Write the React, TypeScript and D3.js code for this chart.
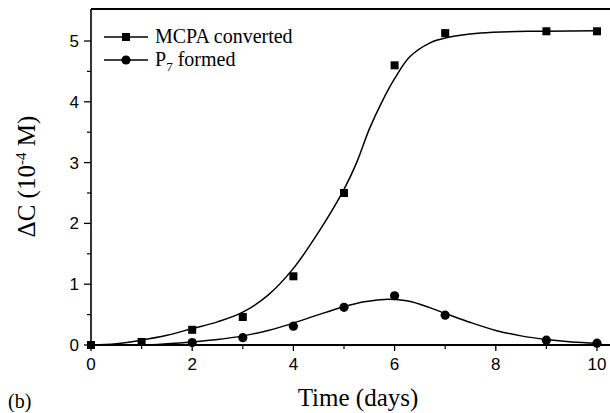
import React from "react";
import * as d3 from "d3";

const W = 610;
const H = 413;

// Measured data
const mcpaX = [0, 1, 2, 3, 4, 5, 6, 7, 9, 10];
const mcpaY = [0, 0.05, 0.25, 0.46, 1.13, 2.5, 4.6, 5.13, 5.16, 5.16];
const p7X = [2, 3, 4, 5, 6, 7, 9, 10];
const p7Y = [0.04, 0.12, 0.31, 0.62, 0.81, 0.49, 0.08, 0.03];

// Fitted curves
const mcpaFitX = [0, 0.5, 1, 1.5, 2, 2.5, 3, 3.5, 4, 4.5, 5, 5.25, 5.5, 5.75, 6, 6.3, 6.7, 7, 7.7, 8.7, 9, 10];
const mcpaFitY = [0, 0.02, 0.08, 0.16, 0.27, 0.38, 0.54, 0.82, 1.26, 1.86, 2.56, 3.0, 3.55, 4.0, 4.38, 4.74, 4.97, 5.05, 5.13, 5.16, 5.16, 5.17];
const p7FitX = [0, 1, 1.5, 2, 2.5, 3, 3.5, 4, 4.5, 5, 5.4, 5.8, 6.2, 6.5, 7, 7.5, 8, 8.5, 9, 9.5, 10];
const p7FitY = [0, 0.0, 0.02, 0.05, 0.09, 0.15, 0.24, 0.36, 0.5, 0.63, 0.71, 0.75, 0.73, 0.67, 0.52, 0.37, 0.24, 0.15, 0.09, 0.05, 0.03];

const xMajor = [0, 2, 4, 6, 8, 10];
const xMinor = [1, 3, 5, 7, 9];
const yMajor = [0, 1, 2, 3, 4, 5];
const yMinor = [0.5, 1.5, 2.5, 3.5, 4.5];

export default function App() {
  const x = d3.scaleLinear().domain([0, 10]).range([91, 597]);
  const y = d3.scaleLinear().domain([0, 5]).range([345, 41]);
  const yTop = 9;
  const x0 = x(0);
  const y0 = y(0);

  const line = d3
    .line<[number, number]>()
    .x((d) => x(d[0]))
    .y((d) => y(d[1]))
    .curve(d3.curveCatmullRom.alpha(0.5));

  const mcpaFit = mcpaFitX.map((v, i) => [v, mcpaFitY[i]] as [number, number]);
  const p7Fit = p7FitX.map((v, i) => [v, p7FitY[i]] as [number, number]);

  const sq = 8;
  const serif = "'Liberation Serif', 'Times New Roman', serif";
  const sans = "'Liberation Sans', Arial, sans-serif";

  return (
    <svg
      width={W}
      height={H}
      style={{ position: "absolute", left: 0, top: 0, background: "#fff" }}
    >
      <rect x={0} y={0} width={W} height={H} fill="#fff" />
      {/* top border */}
      <line x1={x0} x2={W} y1={yTop} y2={yTop} stroke="#000" strokeWidth={2} />
      {/* left axis */}
      <line x1={x0} x2={x0} y1={yTop} y2={y0} stroke="#000" strokeWidth={1.6} />
      {/* bottom axis */}
      <line x1={x0} x2={W} y1={y0} y2={y0} stroke="#000" strokeWidth={1.8} />

      {yMajor.map((v) => (
        <g key={"ym" + v}>
          <line x1={x0 - 7} x2={x0} y1={y(v)} y2={y(v)} stroke="#000" strokeWidth={1.3} />
          <text x={x0 - 12} y={y(v) + 6} textAnchor="end" fontFamily={sans} fontSize={17}>
            {v}
          </text>
        </g>
      ))}
      {yMinor.map((v) => (
        <line key={"yn" + v} x1={x0 - 4} x2={x0} y1={y(v)} y2={y(v)} stroke="#000" strokeWidth={1.2} />
      ))}
      {xMajor.map((v) => (
        <g key={"xm" + v}>
          <line x1={x(v)} x2={x(v)} y1={y0} y2={y0 + 6} stroke="#000" strokeWidth={1.3} />
          <text x={x(v)} y={370} textAnchor="middle" fontFamily={sans} fontSize={17}>
            {v}
          </text>
        </g>
      ))}
      {xMinor.map((v) => (
        <line key={"xn" + v} x1={x(v)} x2={x(v)} y1={y0} y2={y0 + 4} stroke="#000" strokeWidth={1.2} />
      ))}

      {/* fitted curves */}
      <path d={line(mcpaFit) || ""} fill="none" stroke="#000" strokeWidth={1.5} />
      <path d={line(p7Fit) || ""} fill="none" stroke="#000" strokeWidth={1.5} />

      {/* markers */}
      {mcpaX.map((v, i) => (
        <rect
          key={"s" + i}
          x={x(v) - sq / 2}
          y={y(mcpaY[i]) - sq / 2}
          width={sq}
          height={sq}
          fill="#000"
        />
      ))}
      {p7X.map((v, i) => (
        <circle key={"c" + i} cx={x(v)} cy={y(p7Y[i])} r={4.6} fill="#000" />
      ))}

      {/* legend */}
      <line x1={104} x2={148} y1={37} y2={37} stroke="#000" strokeWidth={1.5} />
      <rect x={126 - sq / 2} y={37 - sq / 2} width={sq} height={sq} fill="#000" />
      <text x={155} y={43} fontFamily={serif} fontSize={20}>
        MCPA converted
      </text>
      <line x1={104} x2={148} y1={60} y2={60} stroke="#000" strokeWidth={1.5} />
      <circle cx={126} cy={60} r={4.6} fill="#000" />
      <text x={155} y={66} fontFamily={serif} fontSize={20}>
        P<tspan fontSize={13} dy={5}>7</tspan>
        <tspan dy={-5}> formed</tspan>
      </text>

      {/* axis titles */}
      <text
        transform={`translate(35, ${y(2.77)}) rotate(-90)`}
        textAnchor="middle"
        fontFamily={serif}
        fontSize={25}
      >
        ΔC (10<tspan fontSize={15} dy={-9}>-4</tspan>
        <tspan dy={9}> M)</tspan>
      </text>
      <text x={358} y={406} textAnchor="middle" fontFamily={serif} fontSize={25}>
        Time (days)
      </text>
      <text x={8} y={408} fontFamily={serif} fontSize={20}>
        (b)
      </text>
    </svg>
  );
}
